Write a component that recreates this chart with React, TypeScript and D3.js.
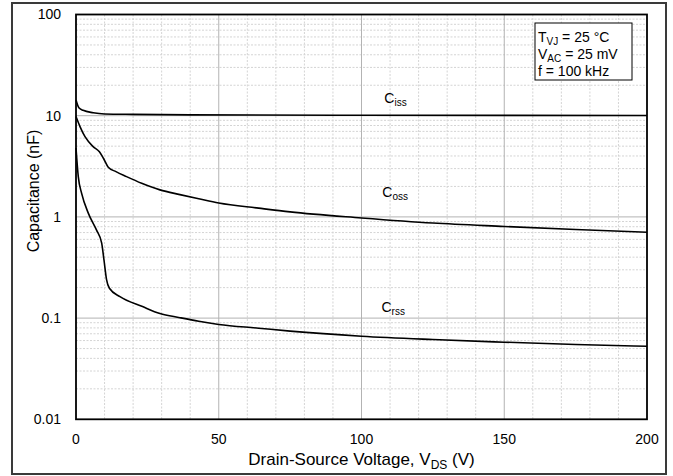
import React from "react";
import * as d3 from "d3";

const xTicks = [0, 50, 100, 150, 200];
const yTicks = [0.01, 0.1, 1, 10, 100];
const yTickLabels = ["0.01", "0.1", "1", "10", "100"];

const cissV = [0, 1, 2.5, 6, 10, 20, 40, 100, 200];
const cissC = [14.3, 12.0, 11.3, 10.7, 10.4, 10.3, 10.2, 10.1, 10.05];

const cossV = [0, 1.4, 3.15, 6, 8.2, 9.6, 11.3, 14, 17.7, 23, 29.4, 36.4, 43, 50, 64, 75, 100, 125, 150, 175, 200];
const cossC = [9.8, 7.8, 6.2, 4.95, 4.4, 3.8, 3.1, 2.8, 2.5, 2.15, 1.85, 1.66, 1.51, 1.37, 1.22, 1.12, 0.977, 0.87, 0.805, 0.75, 0.705];

const crssV = [0, 0.8, 2, 4.3, 7.2, 9, 9.8, 10.7, 11.7, 15.4, 23.3, 29.4, 36.4, 43, 50, 64, 75, 100, 125, 150, 175, 200];
const crssC = [4.8, 2.5, 1.7, 1.09, 0.74, 0.55, 0.375, 0.24, 0.197, 0.163, 0.13, 0.111, 0.101, 0.093, 0.0865, 0.0795, 0.0743, 0.0662, 0.0614, 0.0578, 0.0548, 0.0527];

const seriesNames = ["iss", "oss", "rss"];
const labelV = [108, 107.3, 107];
const labelC = [13.3, 1.58, 0.115];

export default function App() {
  const W = 673, H = 476;
  const left = 76, right = 647, top = 14.5, bottom = 419.3;
  const x = d3.scaleLinear().domain([0, 200]).range([left, right]);
  const y = d3.scaleLog().domain([0.01, 100]).range([bottom, top]);

  const line = d3
    .line<[number, number]>()
    .x((d) => x(d[0]))
    .y((d) => y(d[1]))
    .curve(d3.curveMonotoneX);

  const series = [
    cissV.map((v, i) => [v, cissC[i]] as [number, number]),
    cossV.map((v, i) => [v, cossC[i]] as [number, number]),
    crssV.map((v, i) => [v, crssC[i]] as [number, number]),
  ];

  const minorX = d3.range(10, 200, 10).filter((v) => v % 50 !== 0);
  const minorY: number[] = [];
  [0.01, 0.1, 1, 10].forEach((d) => {
    for (let k = 2; k <= 9; k++) minorY.push(d * k);
  });
  const majorY = [0.1, 1, 10];
  const majorX = [50, 100, 150];

  const font = "'Liberation Sans', Arial, sans-serif";

  return (
    <svg width={W} height={H} style={{ position: "absolute", left: 0, top: 0 }}>
      <rect x={0} y={0} width={W} height={H} fill="#fff" />
      <rect x={12} y={3} width={654} height={471} fill="#fff" stroke="#3a3a3a" strokeWidth={2} />
      {minorX.map((v) => (
        <line key={"mx" + v} x1={x(v)} x2={x(v)} y1={top} y2={bottom} stroke="#d4d4d4" strokeWidth={1} strokeDasharray="2,1.5" />
      ))}
      {minorY.map((v, i) => (
        <line key={"my" + i} x1={left} x2={right} y1={y(v)} y2={y(v)} stroke="#d4d4d4" strokeWidth={1} strokeDasharray="2,1.5" />
      ))}
      {majorX.map((v) => (
        <line key={"Mx" + v} x1={x(v)} x2={x(v)} y1={top} y2={bottom} stroke="#b3b3b3" strokeWidth={1} />
      ))}
      {majorY.map((v) => (
        <line key={"My" + v} x1={left} x2={right} y1={y(v)} y2={y(v)} stroke="#b3b3b3" strokeWidth={1} />
      ))}
      {series.map((s, i) => (
        <path key={"s" + i} d={line(s) || ""} fill="none" stroke="#000" strokeWidth={1.6} />
      ))}
      <rect x={left} y={top} width={right - left} height={bottom - top} fill="none" stroke="#000" strokeWidth={1.8} />
      {yTicks.map((v, i) => (
        <text key={"yt" + v} x={61} y={y(v)} dy="0.35em" textAnchor="end" fontFamily={font} fontSize={14} fill="#000">
          {yTickLabels[i]}
        </text>
      ))}
      {xTicks.map((v) => (
        <text key={"xt" + v} x={x(v)} y={439} dy="0.35em" textAnchor="middle" fontFamily={font} fontSize={14} fill="#000">
          {v}
        </text>
      ))}
      <text x={(left + right) / 2} y={465} textAnchor="middle" fontFamily={font} fontSize={17} fill="#000">
        Drain-Source Voltage, V
        <tspan fontSize={12} dy={4}>DS</tspan>
        <tspan dy={-4}> (V)</tspan>
      </text>
      <text transform={`translate(39,191) rotate(-90)`} textAnchor="middle" fontFamily={font} fontSize={16} fill="#000">
        Capacitance (nF)
      </text>
      {seriesNames.map((n, i) => (
        <text key={"l" + n} x={x(labelV[i])} y={y(labelC[i])} fontFamily={font} fontSize={14} fill="#000">
          C<tspan fontSize={10} dy={3}>{n}</tspan>
        </text>
      ))}
      <rect x={535} y={23} width={97} height={57} fill="#fff" stroke="#000" strokeWidth={1} />
      <text x={538} y={42} fontFamily={font} fontSize={14} fill="#000">
        T<tspan fontSize={10} dy={3}>VJ</tspan>
        <tspan dy={-3}> = 25 °C</tspan>
      </text>
      <text x={538} y={59} fontFamily={font} fontSize={14} fill="#000">
        V<tspan fontSize={10} dy={3}>AC</tspan>
        <tspan dy={-3}> = 25 mV</tspan>
      </text>
      <text x={538} y={76} fontFamily={font} fontSize={14} fill="#000">
        f = 100 kHz
      </text>
    </svg>
  );
}
